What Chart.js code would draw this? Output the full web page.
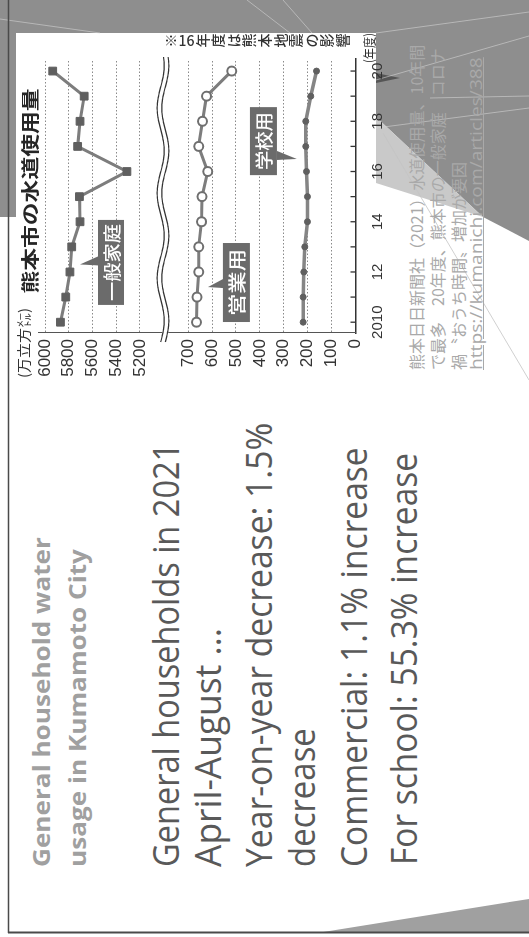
<!DOCTYPE html>
<html lang="ja">
<head>
<meta charset="UTF-8">
<title>熊本市の水道使用量</title>
<script src="https://cdn.jsdelivr.net/npm/chart.js"></script>
<style>
  html, body { margin: 0; padding: 0; background: #fff; }
  body { width: 529px; height: 937px; position: relative; overflow: hidden; }
  #bg { position: absolute; left: 0; top: 0; }
  /* the whole slide is shown turned a quarter turn to the left */
  #slide { position: absolute; left: 0; top: 0; width: 937px; height: 529px;
           transform-origin: 0 0; transform: translateY(937px) rotate(-90deg); }
  .line { position: absolute; white-space: nowrap; transform-origin: 0 50%;
          font-family: "Open Sans", sans-serif; }
  .ttl { font-size: 24px; line-height: 36px; font-weight: 700; color: #a0a0a0; }
  .txt { font-size: 36px; line-height: 43px; color: #595959; }
  .src { font-size: 16px; line-height: 20px; color: #a9a9a9; font-family: "Noto Sans CJK JP", sans-serif; }
  .src.url { font-family: "Open Sans", sans-serif; text-decoration: underline; }
  #chartBox { position: absolute; left: 542px; top: 10px; width: 362px; height: 372px; }
</style>
</head>
<body>
<svg id="bg" width="529" height="937" viewBox="0 0 529 937">
  <rect width="529" height="937" fill="#fff"/>
  <rect x="0" y="0" width="529" height="33" fill="#8e8e8e"/>
  <rect x="0" y="0" width="16" height="217" fill="#8e8e8e"/>
  <polygon points="376,0 529,0 529,241 483,217 376,117" fill="#8e8e8e"/>
  <polygon points="376,117 483,217 376,183" fill="#c9c9c9"/>
  <polygon points="376,73 400,78 376,83" fill="#555"/>
  <polygon points="317,933 529,899 529,933" fill="#a0a0a0"/>
  <g stroke="#d8d8d8" stroke-width="0.7" opacity="0.8" fill="none">
    <line x1="0" y1="19" x2="100" y2="33"/>
    <line x1="247" y1="0" x2="290" y2="33"/>
    <line x1="283" y1="0" x2="312" y2="33"/>
    <line x1="376" y1="33" x2="529" y2="12"/>
    <line x1="376" y1="80" x2="529" y2="36"/>
    <line x1="430" y1="98" x2="529" y2="96"/>
    <line x1="376" y1="128" x2="529" y2="108"/>
  </g>
  <line x1="383" y1="133" x2="529" y2="380" stroke="#c4c4c4" stroke-width="0.8"/>
  <line x1="8.5" y1="0" x2="8.5" y2="933" stroke="#4a4a4a" stroke-width="1.5"/>
  <line x1="8" y1="932.5" x2="529" y2="932.5" stroke="#4a4a4a" stroke-width="2"/>
</svg>

<div id="slide">
  <div class="line ttl" style="left:70px; top:23px" data-w="330">General household water</div>
  <div class="line ttl" style="left:70px; top:59px" data-w="318">usage in Kumamoto City</div>

  <div class="line txt" style="left:70px; top:143.5px" data-w="424">General households in 2021</div>
  <div class="line txt" style="left:70px; top:185.5px" data-w="239">April-August …</div>
  <div class="line txt" style="left:70px; top:236.5px" data-w="444">Year-on-year decrease: 1.5%</div>
  <div class="line txt" style="left:70px; top:279.5px" data-w="139">decrease</div>
  <div class="line txt" style="left:70px; top:331.5px" data-w="420">Commercial: 1.1% increase</div>
  <div class="line txt" style="left:72px; top:381.5px" data-w="412">For school: 55.3% increase</div>

  <div class="line src" style="left:567px; top:406px">熊本日日新聞社（2021）水道使用量、10年間</div>
  <div class="line src" style="left:567px; top:427px">で最多　20年度、熊本市の一般家庭　コロナ</div>
  <div class="line src" style="left:567px; top:448px">禍〝おうち時間〟増加が要因</div>
  <div class="line src url" style="left:567px; top:466px" data-w="313">https://kumanichi.com/articles/388</div>

  <div id="chartBox"><canvas id="waterChart" width="362" height="372"></canvas></div>
</div>

<script>
// 熊本市の水道使用量（万立方㍍）, 年度
const years = [2010, 2011, 2012, 2013, 2014, 2015, 2016, 2017, 2018, 2019, 2020];
const yearLabels = ['2010', '', '12', '', '14', '', '16', '', '18', '', '20'];
const household = [5870, 5825, 5790, 5775, 5705, 5710, 5310, 5725, 5705, 5670, 5935];
const commercial = [665, 663, 656, 656, 644, 642, 618, 656, 640, 623, 518];
const school = [219, 219, 216, 212, 201, 201, 205, 208, 208, 187, 163];
const topTicks = [5200, 5400, 5600, 5800, 6000];
const bottomTicks = [0, 100, 200, 300, 400, 500, 600, 700];
const seriesNames = ['一般家庭', '営業用', '学校用'];

// squeeze the slide text lines to the widths they have in the picture
document.querySelectorAll('.line[data-w]').forEach(el => {
    const w = parseFloat(el.dataset.w);
    el.style.transform = 'scaleX(' + (w / el.offsetWidth) + ')';
});

const jp = '"Noto Sans CJK JP", sans-serif';

function fitText(ctx, text, x, y, font, width, align) {
    ctx.save();
    ctx.font = font;
    const w = ctx.measureText(text).width;
    ctx.translate(x, y);
    ctx.scale(width / w, 1);
    ctx.textAlign = align || 'center';
    ctx.textBaseline = 'middle';
    ctx.fillText(text, 0, 0);
    ctx.restore();
}

function callout(ctx, cx, cy, w, h, text, textW, tipX, tipY) {
    const top = cy - h / 2, bottom = cy + h / 2;
    const edge = tipY < top ? top : bottom;
    ctx.fillStyle = '#6b6b6b';
    ctx.fillRect(cx - w / 2, top, w, h);
    ctx.beginPath();
    ctx.moveTo(tipX - 1, edge);
    ctx.lineTo(tipX + 8, edge);
    ctx.lineTo(tipX, tipY);
    ctx.closePath();
    ctx.fill();
    ctx.fillStyle = '#fff';
    fitText(ctx, text, cx, cy + 1, '500 18px ' + jp, textW);
}

const newsDecor = {
    id: 'newsDecor',
    afterDraw(chart) {
        const { ctx, chartArea: area, scales } = chart;
        const x = scales.x, yTop = scales.yTop, yBot = scales.yBot;
        ctx.save();

        // axis break: double wavy line between the two panels
        const by = yTop.bottom;
        const wave = t => by + 3.5 * Math.sin((t - 53) / 85 * 2 * Math.PI);
        ctx.lineJoin = 'round';
        [[6, '#fff'], [1.2, '#333']].forEach(([lw, col], k) => {
            const offs = k === 0 ? [0] : [-2.3, 2.3];
            offs.forEach(o => {
                ctx.beginPath();
                for (let t = 53; t <= area.right + 2; t += 1) {
                    const yy = wave(t) + o;
                    t === 53 ? ctx.moveTo(t, yy) : ctx.lineTo(t, yy);
                }
                ctx.lineWidth = lw;
                ctx.strokeStyle = col;
                ctx.stroke();
            });
        });

        // inward year ticks
        ctx.strokeStyle = '#333';
        ctx.lineWidth = 1.3;
        years.forEach(v => {
            const px = x.getPixelForValue(v);
            ctx.beginPath();
            ctx.moveTo(px, area.bottom);
            ctx.lineTo(px, area.bottom - 5);
            ctx.stroke();
        });

        ctx.fillStyle = '#333';
        // unit after the last year label
        fitText(ctx, '(年度)', 332, 359, '13px ' + jp, 30, 'left');
        // unit of the value axis
        fitText(ctx, '(万立方㍍)', 17, 14, '14px ' + jp, 70, 'left');
        // title
        ctx.fillStyle = '#262626';
        fitText(ctx, '熊本市の水道使用量', 204, 20, 'bold 18px ' + jp, 205);

        // vertical note on the right edge
        ctx.fillStyle = '#333';
        ctx.font = '500 14px ' + jp;
        ctx.textAlign = 'center';
        ctx.textBaseline = 'middle';
        const note = ['※', '16', '年', '度', 'は', '熊', '本', '地', '震', 'の', '影', '響'];
        note.forEach((ch, i) => {
            const cy = 161 + i * 15.6;
            if (ch === '16') {
                ctx.save();
                ctx.translate(354.5, cy);
                ctx.rotate(Math.PI / 2);
                ctx.fillText(ch, 0, 0);
                ctx.restore();
            } else {
                ctx.fillText(ch, 354.5, cy);
            }
        });

        // series callouts
        callout(ctx, x.getPixelForValue(2012.38), yTop.getPixelForValue(5444), 85, 26,
            seriesNames[0], 77, x.getPixelForValue(2012.3), yTop.getPixelForValue(5705));
        callout(ctx, x.getPixelForValue(2011.58), yBot.getPixelForValue(498), 79, 27,
            seriesNames[1], 67, x.getPixelForValue(2011.4), yBot.getPixelForValue(617));
        callout(ctx, x.getPixelForValue(2017.21), yBot.getPixelForValue(385), 68, 27,
            seriesNames[2], 58, x.getPixelForValue(2016.5), yBot.getPixelForValue(246));

        ctx.restore();
    }
};

const yTicks = {
    autoSkip: false, padding: 6, color: '#333',
    font: { family: 'Liberation Sans', size: 17 },
    callback: v => String(v)
};
const gridOpts = { color: '#8a8a8a', lineWidth: 1, drawTicks: false };
const borderOpts = { display: true, color: '#555', width: 1, dash: [1.5, 2] };

new Chart(document.getElementById('waterChart'), {
    type: 'line',
    data: {
        datasets: [
            {
                label: seriesNames[0],
                data: years.map((yr, i) => ({ x: yr, y: household[i] })),
                yAxisID: 'yTop',
                borderColor: '#7d7d7d',
                borderWidth: 3,
                pointStyle: 'rect',
                pointRadius: 5.5,
                pointBackgroundColor: '#5f5f5f',
                pointBorderColor: '#5f5f5f',
                pointBorderWidth: 1
            },
            {
                label: seriesNames[1],
                data: years.map((yr, i) => ({ x: yr, y: commercial[i] })),
                yAxisID: 'yBot',
                borderColor: '#7d7d7d',
                borderWidth: 3,
                pointStyle: 'circle',
                pointRadius: 4.5,
                pointBackgroundColor: '#fff',
                pointBorderColor: '#6f6f6f',
                pointBorderWidth: 2
            },
            {
                label: seriesNames[2],
                data: years.map((yr, i) => ({ x: yr, y: school[i] })),
                yAxisID: 'yBot',
                borderColor: '#858585',
                borderWidth: 3.5,
                pointStyle: 'circle',
                pointRadius: 3,
                pointBackgroundColor: '#5f5f5f',
                pointBorderColor: '#5f5f5f',
                pointBorderWidth: 1
            }
        ]
    },
    options: {
        responsive: false,
        animation: false,
        layout: { padding: { top: 28, right: 26, bottom: 0, left: 0 } },
        plugins: { legend: { display: false }, tooltip: { enabled: false } },
        scales: {
            x: {
                type: 'linear',
                min: 2009.57,
                max: 2020.48,
                afterBuildTicks: s => { s.ticks = years.map(v => ({ value: v })); },
                afterFit: s => { s.height = 26.5; },
                grid: { display: false },
                border: { display: true, color: '#333', width: 1.5 },
                ticks: {
                    autoSkip: false, maxRotation: 0, padding: 5, color: '#333',
                    font: { family: 'Liberation Sans', size: 15 },
                    callback: (v, i) => yearLabels[i]
                }
            },
            yBot: {
                type: 'linear',
                position: 'left',
                stack: 'v',
                stackWeight: 192.5,
                min: 0,
                max: 805,
                afterBuildTicks: s => { s.ticks = bottomTicks.map(v => ({ value: v })); },
                afterFit: s => { s.width = 62; },
                grid: gridOpts,
                border: borderOpts,
                ticks: yTicks
            },
            yTop: {
                type: 'linear',
                position: 'left',
                stack: 'v',
                stackWeight: 125,
                min: 5006,
                max: 6059,
                afterBuildTicks: s => { s.ticks = topTicks.map(v => ({ value: v })); },
                afterFit: s => { s.width = 62; },
                grid: gridOpts,
                border: borderOpts,
                ticks: yTicks
            }
        }
    },
    plugins: [newsDecor]
});
</script>
</body>
</html>
